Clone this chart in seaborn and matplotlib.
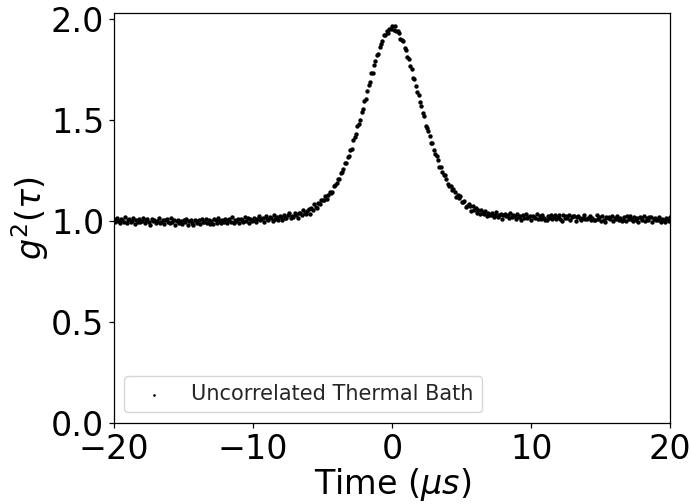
import numpy as np
import pandas as pd
import matplotlib
matplotlib.use("Agg")
import matplotlib.pyplot as plt
import seaborn as sns

# ---- data (0.1 us bins from -20 to +20 us) ----
TIME_START_US = -20.0
TIME_STOP_US = 20.0
N_BINS = 401

# t = -20.0 ... -10.1
g2_far_left = [
    1.008, 0.994, 1.015, 1.000, 0.989, 1.010, 1.004, 0.997, 1.019, 0.992,
    1.004, 1.010, 0.994, 1.000, 1.014, 0.985, 1.007, 0.997, 1.011, 0.993,
    0.998, 1.014, 0.988, 1.004, 1.008, 0.995, 0.982, 1.011, 1.000, 1.007,
    0.988, 1.000, 1.013, 0.992, 0.995, 1.007, 0.985, 1.003, 1.010, 0.997,
    0.990, 1.015, 0.993, 1.003, 0.982, 1.000, 1.007, 0.988, 0.998, 0.986,
    1.004, 0.994, 1.009, 0.982, 1.000, 1.007, 0.990, 0.979, 1.005, 0.998,
    0.992, 1.004, 0.987, 1.011, 0.994, 0.997, 1.009, 0.989, 1.003, 0.985,
    1.002, 0.983, 1.009, 1.004, 0.992, 1.014, 0.998, 0.990, 1.007, 0.995,
    1.012, 0.988, 1.003, 1.008, 0.995, 1.018, 0.990, 1.005, 0.999, 1.010,
    0.991, 1.011, 1.006, 0.997, 1.018, 1.000, 1.015, 0.990, 1.008, 1.002,
]
# t = -10.0 ... -5.1
g2_left_shoulder = [
    1.003, 1.017, 0.997, 1.012, 1.024, 1.003, 1.009, 1.017, 0.995, 1.023,
    1.009, 1.004, 1.020, 1.015, 1.001, 1.031, 1.010, 1.020, 1.007, 1.025,
    1.020, 1.005, 1.032, 1.017, 1.014, 1.028, 1.042, 1.014, 1.026, 1.020,
    1.038, 1.028, 1.017, 1.040, 1.039, 1.029, 1.054, 1.038, 1.034, 1.050,
    1.059, 1.037, 1.063, 1.057, 1.082, 1.068, 1.066, 1.090, 1.085, 1.103,
]
# t = -5.0 ... +5.0
g2_peak = [
    1.104, 1.103, 1.122, 1.109, 1.131, 1.146, 1.141, 1.142, 1.174, 1.180,
    1.186, 1.208, 1.207, 1.240, 1.242, 1.259, 1.286, 1.287, 1.316, 1.320,
    1.352, 1.357, 1.399, 1.417, 1.430, 1.472, 1.483, 1.502, 1.540, 1.557,
    1.595, 1.603, 1.642, 1.672, 1.688, 1.733, 1.735, 1.772, 1.792, 1.824,
    1.828, 1.864, 1.879, 1.890, 1.921, 1.920, 1.943, 1.932, 1.952, 1.952,
    1.968,
    1.948, 1.966, 1.942, 1.939, 1.933, 1.903, 1.897, 1.891, 1.855, 1.846,
    1.814, 1.805, 1.769, 1.752, 1.709, 1.706, 1.668, 1.637, 1.623, 1.591,
    1.569, 1.537, 1.521, 1.473, 1.459, 1.445, 1.419, 1.384, 1.384, 1.351,
    1.332, 1.324, 1.300, 1.269, 1.269, 1.245, 1.227, 1.230, 1.207, 1.185,
    1.172, 1.171, 1.152, 1.157, 1.142, 1.119, 1.128, 1.112, 1.122, 1.095,
]
# t = +5.1 ... +10.0
g2_right_shoulder = [
    1.096, 1.098, 1.067, 1.073, 1.085, 1.074, 1.052, 1.075, 1.056, 1.062,
    1.039, 1.054, 1.037, 1.055, 1.041, 1.036, 1.051, 1.025, 1.041, 1.028,
    1.028, 1.039, 1.021, 1.028, 1.043, 1.021, 1.032, 1.037, 1.010, 1.029,
    1.034, 1.023, 1.029, 1.013, 1.041, 1.018, 1.030, 1.025, 1.010, 1.034,
    1.019, 1.025, 1.007, 1.032, 1.017, 1.034, 1.013, 1.022, 1.027, 1.007,
]
# t = +10.1 ... +20.0
g2_far_right = [
    1.027, 1.021, 1.014, 1.036, 1.009, 1.025, 1.011, 1.032, 1.017, 1.006,
    1.003, 1.025, 1.015, 1.029, 1.011, 1.022, 1.028, 1.012, 1.018, 1.032,
    1.012, 0.999, 1.028, 1.017, 1.024, 1.015, 1.031, 1.005, 1.021, 1.025,
    1.024, 1.002, 1.020, 1.027, 1.014, 1.005, 1.017, 1.030, 1.009, 1.012,
    1.017, 1.024, 1.005, 1.015, 1.003, 1.007, 1.032, 1.010, 1.020, 0.999,
    1.023, 1.006, 0.995, 1.021, 1.014, 1.020, 1.010, 1.025, 0.998, 1.016,
    1.011, 1.023, 1.003, 1.017, 0.999, 1.006, 1.018, 1.001, 1.025, 1.008,
    1.025, 1.009, 1.001, 1.018, 1.006, 1.013, 0.994, 1.020, 1.015, 1.003,
    1.026, 0.998, 1.013, 1.007, 1.018, 1.020, 0.996, 1.011, 1.016, 1.003,
    1.003, 1.018, 0.993, 1.011, 1.005, 0.994, 1.014, 1.009, 1.000, 1.021,
]

series_label = "Uncorrelated Thermal Bath"
x_ticks = [-20, -10, 0, 10, 20]
y_ticks = [0.0, 0.5, 1.0, 1.5, 2.0]

g2_values = g2_far_left + g2_left_shoulder + g2_peak + g2_right_shoulder + g2_far_right
time_us = np.linspace(TIME_START_US, TIME_STOP_US, N_BINS)
df = pd.DataFrame({"time": time_us, "g2": g2_values, "series": series_label})

# ---- plot ----
sns.set_theme(style="ticks")
plt.rcParams["font.family"] = ["DejaVu Sans"]
plt.rcParams["mathtext.fontset"] = "dejavusans"

fig = plt.figure(figsize=(6.91, 5.04), dpi=100)
ax = fig.add_axes([0.165, 0.161, 0.805, 0.813])

sns.scatterplot(data=df, x="time", y="g2", color="black", s=10,
                linewidth=0, label=series_label, ax=ax)

for sp in ax.spines.values():
    sp.set_color("black")
    sp.set_linewidth(0.9)

ax.set_xlim(-20, 20)
ax.set_ylim(0, 2.03)
ax.set_xticks(x_ticks)
ax.set_yticks(y_ticks)
ax.set_yticklabels([f"{v:.1f}" for v in y_ticks])
ax.tick_params(axis="both", labelsize=24, colors="black", length=3.5, width=0.9, pad=3.5)
ax.set_xlabel(r"Time ($\mu s$)", fontsize=24, color="black", labelpad=0)
ax.set_ylabel(r"$g^2(\tau)$", fontsize=24, color="black", labelpad=0)

leg = ax.legend(loc="lower left", fontsize=15, frameon=True, borderaxespad=0.5,
                markerscale=0.6)
leg.get_frame().set_edgecolor("#cccccc")

fig.savefig("out.png", dpi=100)
